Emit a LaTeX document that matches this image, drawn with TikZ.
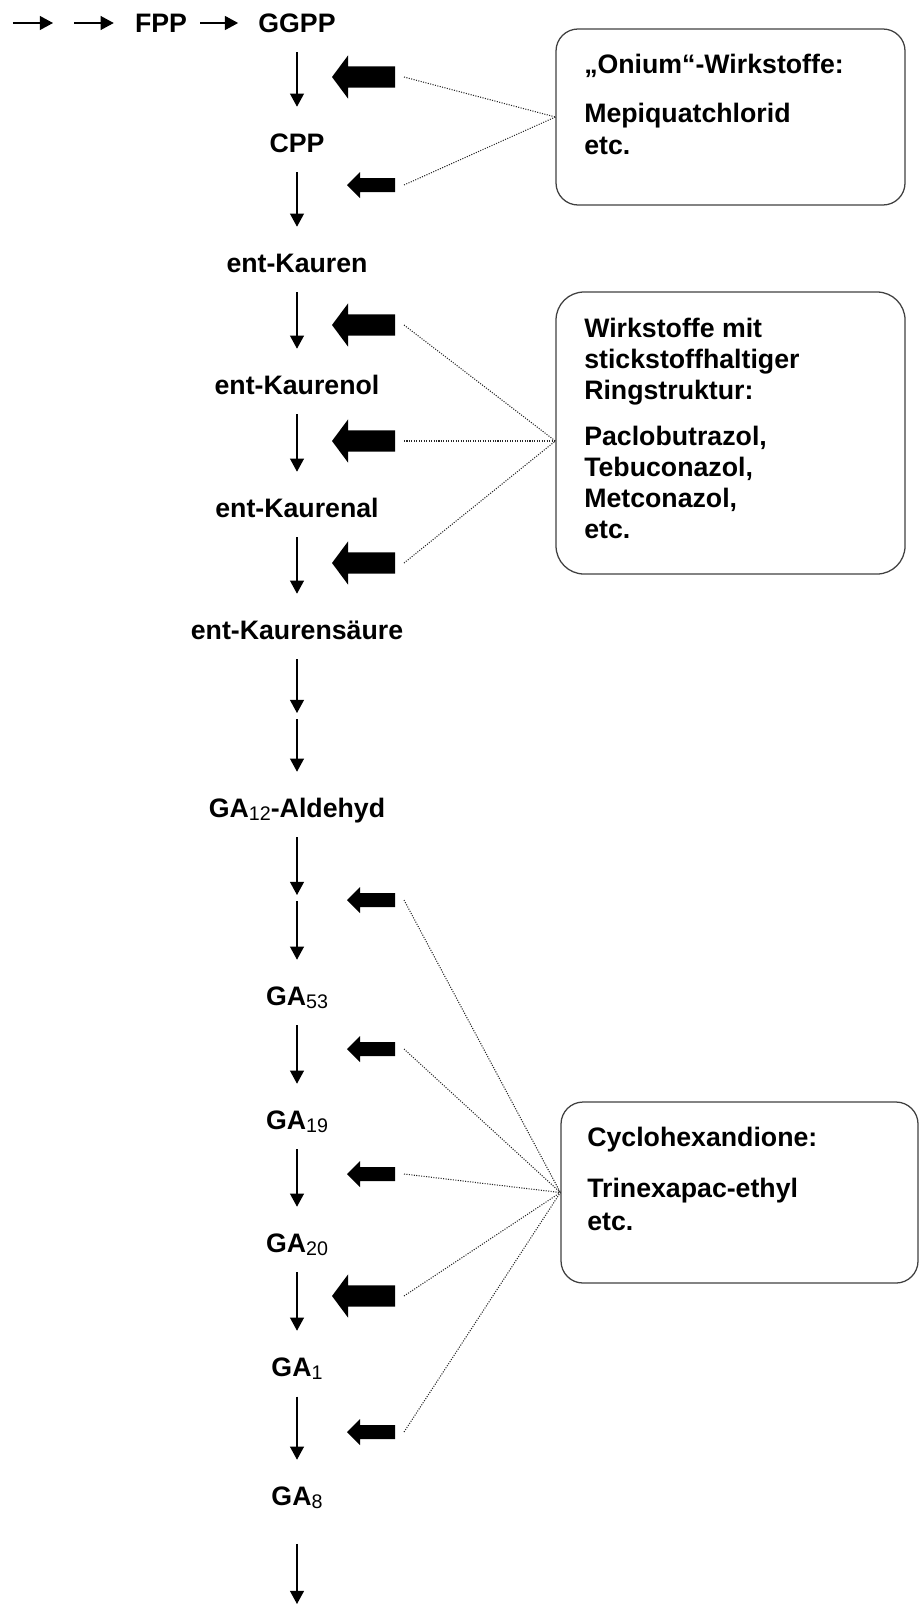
\documentclass[tikz,border=0pt]{standalone}
\usepackage{fontspec}
\setmainfont{Liberation Sans}
\usetikzlibrary{arrows.meta}
\newcommand{\stagefont}{\fontsize{19}{22}\selectfont\bfseries}
\newcommand{\gasub}[1]{\raisebox{-2.2pt}{\fontsize{14}{14}\selectfont\mdseries #1}}
\tikzset{
  every picture/.style={line join=round},
  stage/.style={font=\stagefont, inner sep=0pt, text height=0.48cm, text depth=0pt},
  boxline/.style={stage, anchor=west},
  flow/.style={line width=0.9pt, -{Triangle[width=0.35cm,length=0.33cm]}, shorten <=0.49cm, shorten >=0.66cm},
  hint/.style={densely dotted, line width=0.75pt, black!85},
  infobox/.style={draw=black!75, line width=0.9pt, rounded corners=0.55cm, inner sep=0pt},
  pics/bigblock/.style={code={
    \fill (0,0.263) -- (-1.175,0.263) -- (-1.175,0.538) -- (-1.575,0) -- (-1.175,-0.538) -- (-1.175,-0.263) -- (0,-0.263) -- cycle;
    \coordinate (-tail) at (0.225,0);}},
  pics/smallblock/.style={code={
    \fill (0,0.175) -- (-0.875,0.175) -- (-0.875,0.325) -- (-1.200,0) -- (-0.875,-0.325) -- (-0.875,-0.175) -- (0,-0.175) -- cycle;
    \coordinate (-tail) at (0.225,0);}},
}

\begin{document}
\begin{tikzpicture}
\useasboundingbox (0,0) rectangle (23.000,-40.175);
% Syntheseweg
\coordinate (pre0) at (0.325,-0.575);
\coordinate (pre1) at (1.575,-0.575);
\node[stage] (fpp) at (4.025,-0.575) {FPP};
\node[stage] (ggpp) at (7.425,-0.575) {GGPP};
\node[stage] (cpp) at (7.425,-3.575) {CPP};
\node[stage] (kauren) at (7.425,-6.575) {ent-Kauren};
\node[stage] (kaurenol) at (7.425,-9.625) {ent-Kaurenol};
\node[stage] (kaurenal) at (7.425,-12.700) {ent-Kaurenal};
\node[stage] (saeure) at (7.425,-15.750) {ent-Kaurensäure};
\coordinate (gap1) at (7.425,-17.900);
\node[stage] (ga12) at (7.425,-20.200) {GA\gasub{12}-Aldehyd};
\coordinate (gap2) at (7.425,-22.450);
\node[stage] (ga53) at (7.425,-24.900) {GA\gasub{53}};
\node[stage] (ga19) at (7.425,-28.000) {GA\gasub{19}};
\node[stage] (ga20) at (7.425,-31.075) {GA\gasub{20}};
\node[stage] (ga1) at (7.425,-34.175) {GA\gasub{1}};
\node[stage] (ga8) at (7.425,-37.400) {GA\gasub{8}};
\coordinate (gaend) at (7.425,-40.100);
\draw[flow,shorten <=0pt,shorten >=0.25cm] (pre0) -- (pre1);
\draw[flow,shorten <=0.275cm,shorten >=0.525cm] (pre1) -- (fpp);
\draw[flow,shorten <=0.325cm,shorten >=0.5cm] (fpp) -- (ggpp);
\draw[flow] (ggpp) -- (cpp);
\draw[flow] (cpp) -- (kauren);
\draw[flow] (kauren) -- (kaurenol);
\draw[flow] (kaurenol) -- (kaurenal);
\draw[flow] (kaurenal) -- (saeure);
\draw[flow,shorten >=0.075cm] (saeure) -- (gap1);
\draw[flow,shorten <=0.075cm] (gap1) -- (ga12);
\draw[flow,shorten >=0.075cm] (ga12) -- (gap2);
\draw[flow,shorten <=0.075cm] (gap2) -- (ga53);
\draw[flow] (ga53) -- (ga19);
\draw[flow] (ga19) -- (ga20);
\draw[flow] (ga20) -- (ga1);
\draw[flow] (ga1) -- (ga8);
\draw[flow,shorten <=0.95cm,shorten >=0pt] (ga8) -- (gaend);
% Hemmstellen
\pic (b1) at (9.875,-1.925) {bigblock};
\pic (b2) at (9.875,-4.625) {smallblock};
\pic (b3) at (9.875,-8.125) {bigblock};
\pic (b4) at (9.875,-11.025) {bigblock};
\pic (b5) at (9.875,-14.075) {bigblock};
\pic (b6) at (9.875,-22.500) {smallblock};
\pic (b7) at (9.875,-26.225) {smallblock};
\pic (b8) at (9.875,-29.350) {smallblock};
\pic (b9) at (9.875,-32.400) {bigblock};
\pic (b10) at (9.875,-35.800) {smallblock};
% Wirkstoffgruppen
\node[infobox,minimum width=8.725cm,minimum height=4.400cm] (onium) at (18.263,-2.925) {};
\node[boxline] (onium1) at (14.600,-1.600) {„Onium“-Wirkstoffe:};
\node[boxline] (onium2) at (14.600,-2.825) {Mepiquatchlorid};
\node[boxline] (onium3) at (14.600,-3.625) {etc.};
\node[infobox,rounded corners=0.7cm,minimum width=8.725cm,minimum height=7.050cm] (ring) at (18.263,-10.825) {};
\node[boxline] (ring1) at (14.600,-8.200) {Wirkstoffe mit};
\node[boxline] (ring2) at (14.600,-8.975) {stickstoffhaltiger};
\node[boxline] (ring3) at (14.600,-9.750) {Ringstruktur:};
\node[boxline] (ring4) at (14.600,-10.900) {Paclobutrazol,};
\node[boxline] (ring5) at (14.600,-11.675) {Tebuconazol,};
\node[boxline] (ring6) at (14.600,-12.450) {Metconazol,};
\node[boxline] (ring7) at (14.600,-13.225) {etc.};
\node[infobox,minimum width=8.925cm,minimum height=4.525cm] (cyclo) at (18.488,-29.813) {};
\node[boxline] (cyclo1) at (14.675,-28.425) {Cyclohexandione:};
\node[boxline] (cyclo2) at (14.675,-29.700) {Trinexapac-ethyl};
\node[boxline] (cyclo3) at (14.675,-30.525) {etc.};
% Zuordnung
\draw[hint] (b1-tail) -- (onium.west);
\draw[hint] (b2-tail) -- (onium.west);
\coordinate (hub) at (ring.west |- b4-tail);
\draw[hint] (b3-tail) -- (hub);
\draw[hint] (b4-tail) -- (hub);
\draw[hint] (b5-tail) -- (hub);
\draw[hint] (b6-tail) -- (cyclo.west);
\draw[hint] (b7-tail) -- (cyclo.west);
\draw[hint] (b8-tail) -- (cyclo.west);
\draw[hint] (b9-tail) -- (cyclo.west);
\draw[hint] (b10-tail) -- (cyclo.west);
\end{tikzpicture}
\end{document}
